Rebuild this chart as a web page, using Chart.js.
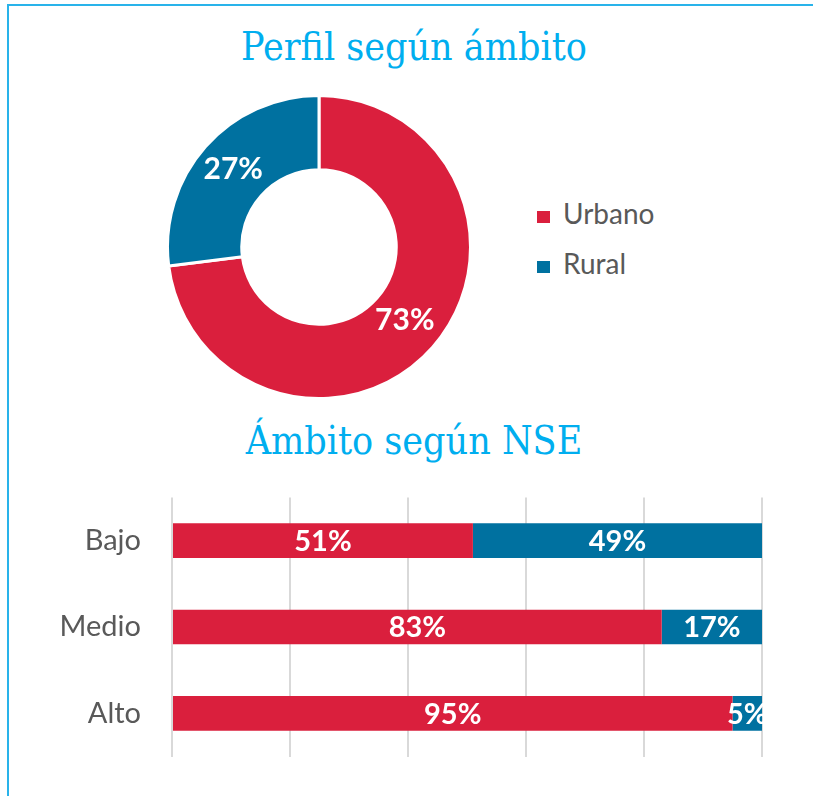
<!DOCTYPE html>
<html>
<head>
<meta charset="utf-8">
<script src="https://cdn.jsdelivr.net/npm/chart.js@4.4.0/dist/chart.umd.min.js"></script>
<style>
  body { margin: 0; background: #fff; width: 813px; height: 796px; overflow: hidden; position: relative; }
  .frame { position: absolute; left: 7px; top: 4px; width: 830px; height: 820px;
           border-left: 2px solid #29b3ea; border-top: 2px solid #29b3ea; }
  .heading { position: absolute; left: 0; width: 828px; text-align: center; color: #00aeef;
             font-family: "DejaVu Serif"; font-stretch: condensed; font-size: 39px; line-height: 44px; }
  canvas { position: absolute; }
  #chartDonut { left: 166px; top: 94px; }
  /* the y axis tick padding also pads the plot top and bottom by ~48px */
  #chartBars { left: 0; top: 449px; }
  .legend { position: absolute; left: 537px; top: 196px; font-family: Lato; font-size: 28px; color: #595959; }
  .legend div { height: 50px; line-height: 34px; }
  .legend span { display: inline-block; width: 13px; height: 12px; margin-right: 13px; vertical-align: 1px; }
</style>
</head>
<body>
<div class="frame"></div>
<div class="heading" style="top:25px;">Perfil según ámbito</div>
<div class="heading" style="top:419px;">Ámbito según NSE</div>
<canvas id="chartDonut" width="306" height="306"></canvas>
<div class="legend" id="donutLegend"></div>
<canvas id="chartBars" width="764" height="356"></canvas>

<script>
/** Data **/
const zoneLabels = ["Urbano", "Rural"];
const zoneShare = [73, 27];

const nseLabels = ["Bajo", "Medio", "Alto"];
const urbanByNse = [51, 83, 95];
const ruralByNse = [49, 17, 5];

const RED = "#da1f3d";
const BLUE = "#0071a0";
const GREY_TEXT = "#595959";

/** white percentage labels in the middle of every slice / bar segment **/
const valueLabels = {
  id: "valueLabels",
  afterDatasetsDraw(chart, args, opts) {
    const ctx = chart.ctx;
    ctx.save();
    ctx.fillStyle = "#fff";
    ctx.font = "bold " + opts.size + "px Lato";
    ctx.textAlign = "center";
    ctx.textBaseline = "middle";
    chart.data.datasets.forEach(function(ds, i) {
      chart.getDatasetMeta(i).data.forEach(function(el, j) {
        var p = el.getCenterPoint();
        ctx.fillText(ds.data[j] + "%", p.x + (opts.dx || 0), p.y + (opts.dy || 0));
      });
    });
    ctx.restore();
  }
};

var donut = new Chart(document.getElementById("chartDonut"), {
  type: "doughnut",
  data: {
    labels: zoneLabels,
    datasets: [{
      data: zoneShare,
      backgroundColor: [RED, BLUE],
      borderColor: "#fff",
      borderWidth: 3
    }]
  },
  options: {
    responsive: false,
    animation: false,
    cutout: "51%",
    plugins: {
      tooltip: { enabled: false },
      legend: { display: false },
      valueLabels: { size: 30, dy: -2 }
    }
  },
  plugins: [valueLabels]
});

// legend to the right of the doughnut, from the chart's own legend items
var legendBox = document.getElementById("donutLegend");
donut.options.plugins.legend.labels.generateLabels(donut).forEach(function(item) {
  var row = document.createElement("div");
  var box = document.createElement("span");
  box.style.background = item.fillStyle;
  row.appendChild(box);
  row.appendChild(document.createTextNode(item.text));
  legendBox.appendChild(row);
});

new Chart(document.getElementById("chartBars"), {
  type: "bar",
  data: {
    labels: nseLabels,
    datasets: [
      { label: "Urbano", data: urbanByNse, backgroundColor: RED },
      { label: "Rural", data: ruralByNse, backgroundColor: BLUE }
    ]
  },
  options: {
    indexAxis: "y",
    responsive: false,
    animation: false,
    layout: { padding: { right: 2 } },
    datasets: { bar: { barPercentage: 0.4, categoryPercentage: 1.0 } },
    plugins: {
      legend: { display: false },
      tooltip: { enabled: false },
      valueLabels: { size: 29, dy: 1 }
    },
    scales: {
      x: {
        stacked: true,
        min: 0,
        max: 100,
        ticks: { display: false, stepSize: 20 },
        grid: { color: "#d9d9d9", lineWidth: 2, drawTicks: false },
        border: { display: false }
      },
      y: {
        stacked: true,
        grid: { display: false, drawTicks: false },
        border: { display: false },
        ticks: { color: GREY_TEXT, padding: 31, font: { family: "Lato", size: 29 } },
        afterFit: function(scale) { scale.width = 172; }
      }
    }
  },
  plugins: [valueLabels]
});
</script>
</body>
</html>
